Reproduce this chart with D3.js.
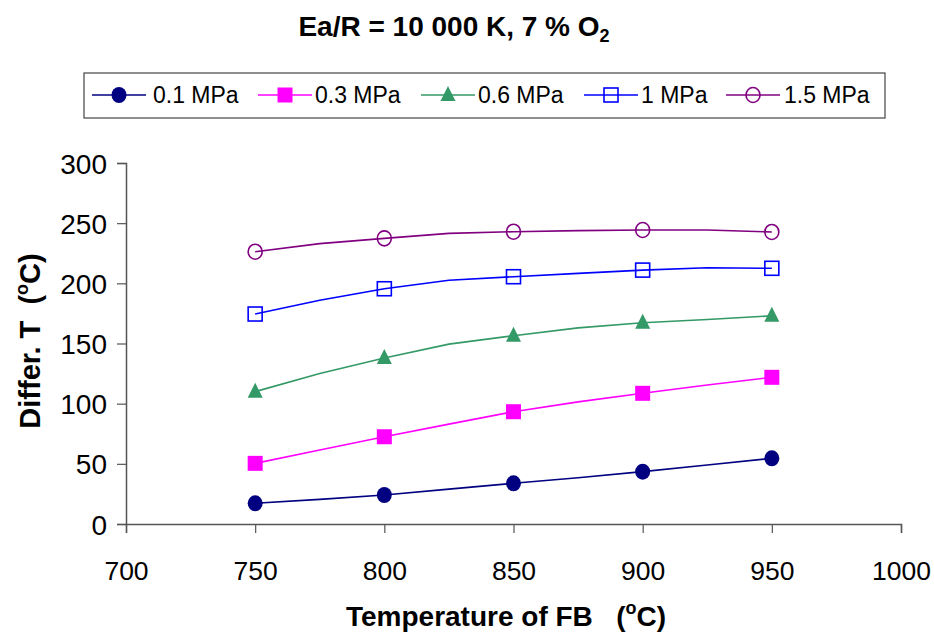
<!DOCTYPE html>
<html><head><meta charset="utf-8">
<script src="https://cdn.jsdelivr.net/npm/d3@7"></script>
<style>
body{margin:0;background:#fff;}
svg{font-family:"Liberation Sans",Arial,sans-serif;}
</style></head>
<body><svg id="c" width="934" height="635"></svg>
<script>
// Data
const temps = [750, 775, 800, 825, 850, 875, 900, 925, 950];
const markerTemps = [750, 800, 850, 900, 950];
const seriesNames = ["0.1 MPa", "0.3 MPa", "0.6 MPa", "1 MPa", "1.5 MPa"];
const s01 = [17.2, 20.5, 24.1, 29, 33.8, 38.5, 43.5, 49, 54.6];
const s03 = [50.4, 61.5, 72.5, 83, 93.3, 101.5, 108.6, 115.5, 121.9];
const s06 = [110, 125, 138, 149.5, 156.5, 163, 167.3, 170, 173];
const s1  = [174.5, 186, 195.5, 202.5, 205.5, 208.3, 211, 213, 212.5];
const s15 = [226.3, 233, 237.4, 241.5, 242.9, 243.8, 244.3, 244.3, 242.7];
const xTicks = [700, 750, 800, 850, 900, 950, 1000];
const yTicks = [0, 50, 100, 150, 200, 250, 300];

const colors = ["#000080", "#FF00FF", "#339966", "#0000FF", "#800080"];
const shapes = ["circleFill", "squareFill", "triangle", "squareOpen", "circleOpen"];
const allSeries = [s01, s03, s06, s1, s15];

const svg = d3.select("#c");
const x = d3.scaleLinear().domain([700, 1000]).range([126, 901]);
const y = d3.scaleLinear().domain([0, 300]).range([524, 163]);

// Title
const title = svg.append("text").attr("x", 454).attr("y", 36).attr("text-anchor", "middle")
  .attr("font-size", 28).attr("font-weight", "bold");
title.append("tspan").text("Ea/R = 10 000 K, 7 % O");
title.append("tspan").attr("font-size", 18).attr("dy", 6).text("2");

// Axes
const yAxis = svg.append("g").attr("transform", "translate(126,0)")
  .call(d3.axisLeft(y).tickValues(yTicks).tickSize(9).tickPadding(10).tickFormat(d3.format("d")));
const xAxis = svg.append("g").attr("transform", "translate(0,524)")
  .call(d3.axisBottom(x).tickValues(xTicks).tickSize(9).tickPadding(11).tickFormat(d3.format("d")));
[yAxis, xAxis].forEach(a => {
  a.select(".domain").attr("stroke", "#555").attr("stroke-width", 1.5);
  a.selectAll(".tick line").attr("stroke", "#555").attr("stroke-width", 1.2);
  a.selectAll(".tick text").attr("fill", "#000")
    .attr("font-family", "Liberation Sans, Arial, sans-serif");
});
yAxis.selectAll(".tick text").attr("font-size", 28).attr("dy", "0.36em");
xAxis.selectAll(".tick text").attr("font-size", 26.5).attr("y", 56).attr("dy", 0);

// Axis titles
const yt = svg.append("text").attr("transform", "translate(40,341) rotate(-90)")
  .attr("text-anchor", "middle").attr("font-size", 29).attr("font-weight", "bold")
  .attr("xml:space", "preserve");
yt.append("tspan").text("Differ. T  (");
yt.append("tspan").attr("font-size", 18).attr("dy", -12).text("o");
yt.append("tspan").attr("dy", 12).text("C)");

const xt = svg.append("text").attr("x", 506).attr("y", 626)
  .attr("text-anchor", "middle").attr("font-size", 28).attr("font-weight", "bold")
  .attr("xml:space", "preserve");
xt.append("tspan").text("Temperature of FB   (");
xt.append("tspan").attr("font-size", 18).attr("dy", -12).text("o");
xt.append("tspan").attr("dy", 12).text("C)");

// Marker drawing
function drawMarker(g, shape, color, cx, cy) {
  if (shape === "circleFill") {
    g.append("ellipse").attr("cx", cx).attr("cy", cy).attr("rx", 7.5).attr("ry", 8).attr("fill", color);
  } else if (shape === "squareFill") {
    g.append("rect").attr("x", cx - 7.5).attr("y", cy - 7.5).attr("width", 15).attr("height", 15).attr("fill", color);
  } else if (shape === "triangle") {
    g.append("path").attr("d", `M${cx},${cy - 9}L${cx + 7.5},${cy + 6}L${cx - 7.5},${cy + 6}Z`).attr("fill", color);
  } else if (shape === "squareOpen") {
    g.append("rect").attr("x", cx - 7).attr("y", cy - 7).attr("width", 14).attr("height", 14)
      .attr("fill", "none").attr("stroke", color).attr("stroke-width", 1.6);
  } else if (shape === "circleOpen") {
    g.append("ellipse").attr("cx", cx).attr("cy", cy).attr("rx", 7).attr("ry", 7.5)
      .attr("fill", "none").attr("stroke", color).attr("stroke-width", 1.6);
  }
}

// Lines and markers
const line = d3.line().x((d, i) => x(temps[i])).y(d => y(d));
allSeries.forEach((s, k) => {
  svg.append("path").datum(s).attr("d", line).attr("fill", "none")
    .attr("stroke", colors[k]).attr("stroke-width", 1.6);
});
allSeries.forEach((s, k) => {
  const g = svg.append("g");
  temps.forEach((t, i) => {
    if (markerTemps.includes(t)) drawMarker(g, shapes[k], colors[k], x(t), y(s[i]));
  });
});

// Legend
svg.append("rect").attr("x", 84).attr("y", 73).attr("width", 801).attr("height", 45)
  .attr("fill", "#fff").attr("stroke", "#444").attr("stroke-width", 1.2);
const legX = [92, 258, 421, 584, 726];
const legText = [153, 315, 478, 641, 784];
seriesNames.forEach((n, k) => {
  const g = svg.append("g");
  g.append("line").attr("x1", legX[k]).attr("x2", legX[k] + 54).attr("y1", 95).attr("y2", 95)
    .attr("stroke", colors[k]).attr("stroke-width", 1.6);
  drawMarker(g, shapes[k], colors[k], legX[k] + 27, 95);
  g.append("text").attr("x", legText[k]).attr("y", 103).attr("font-size", 23).text(n);
});
</script></body></html>
